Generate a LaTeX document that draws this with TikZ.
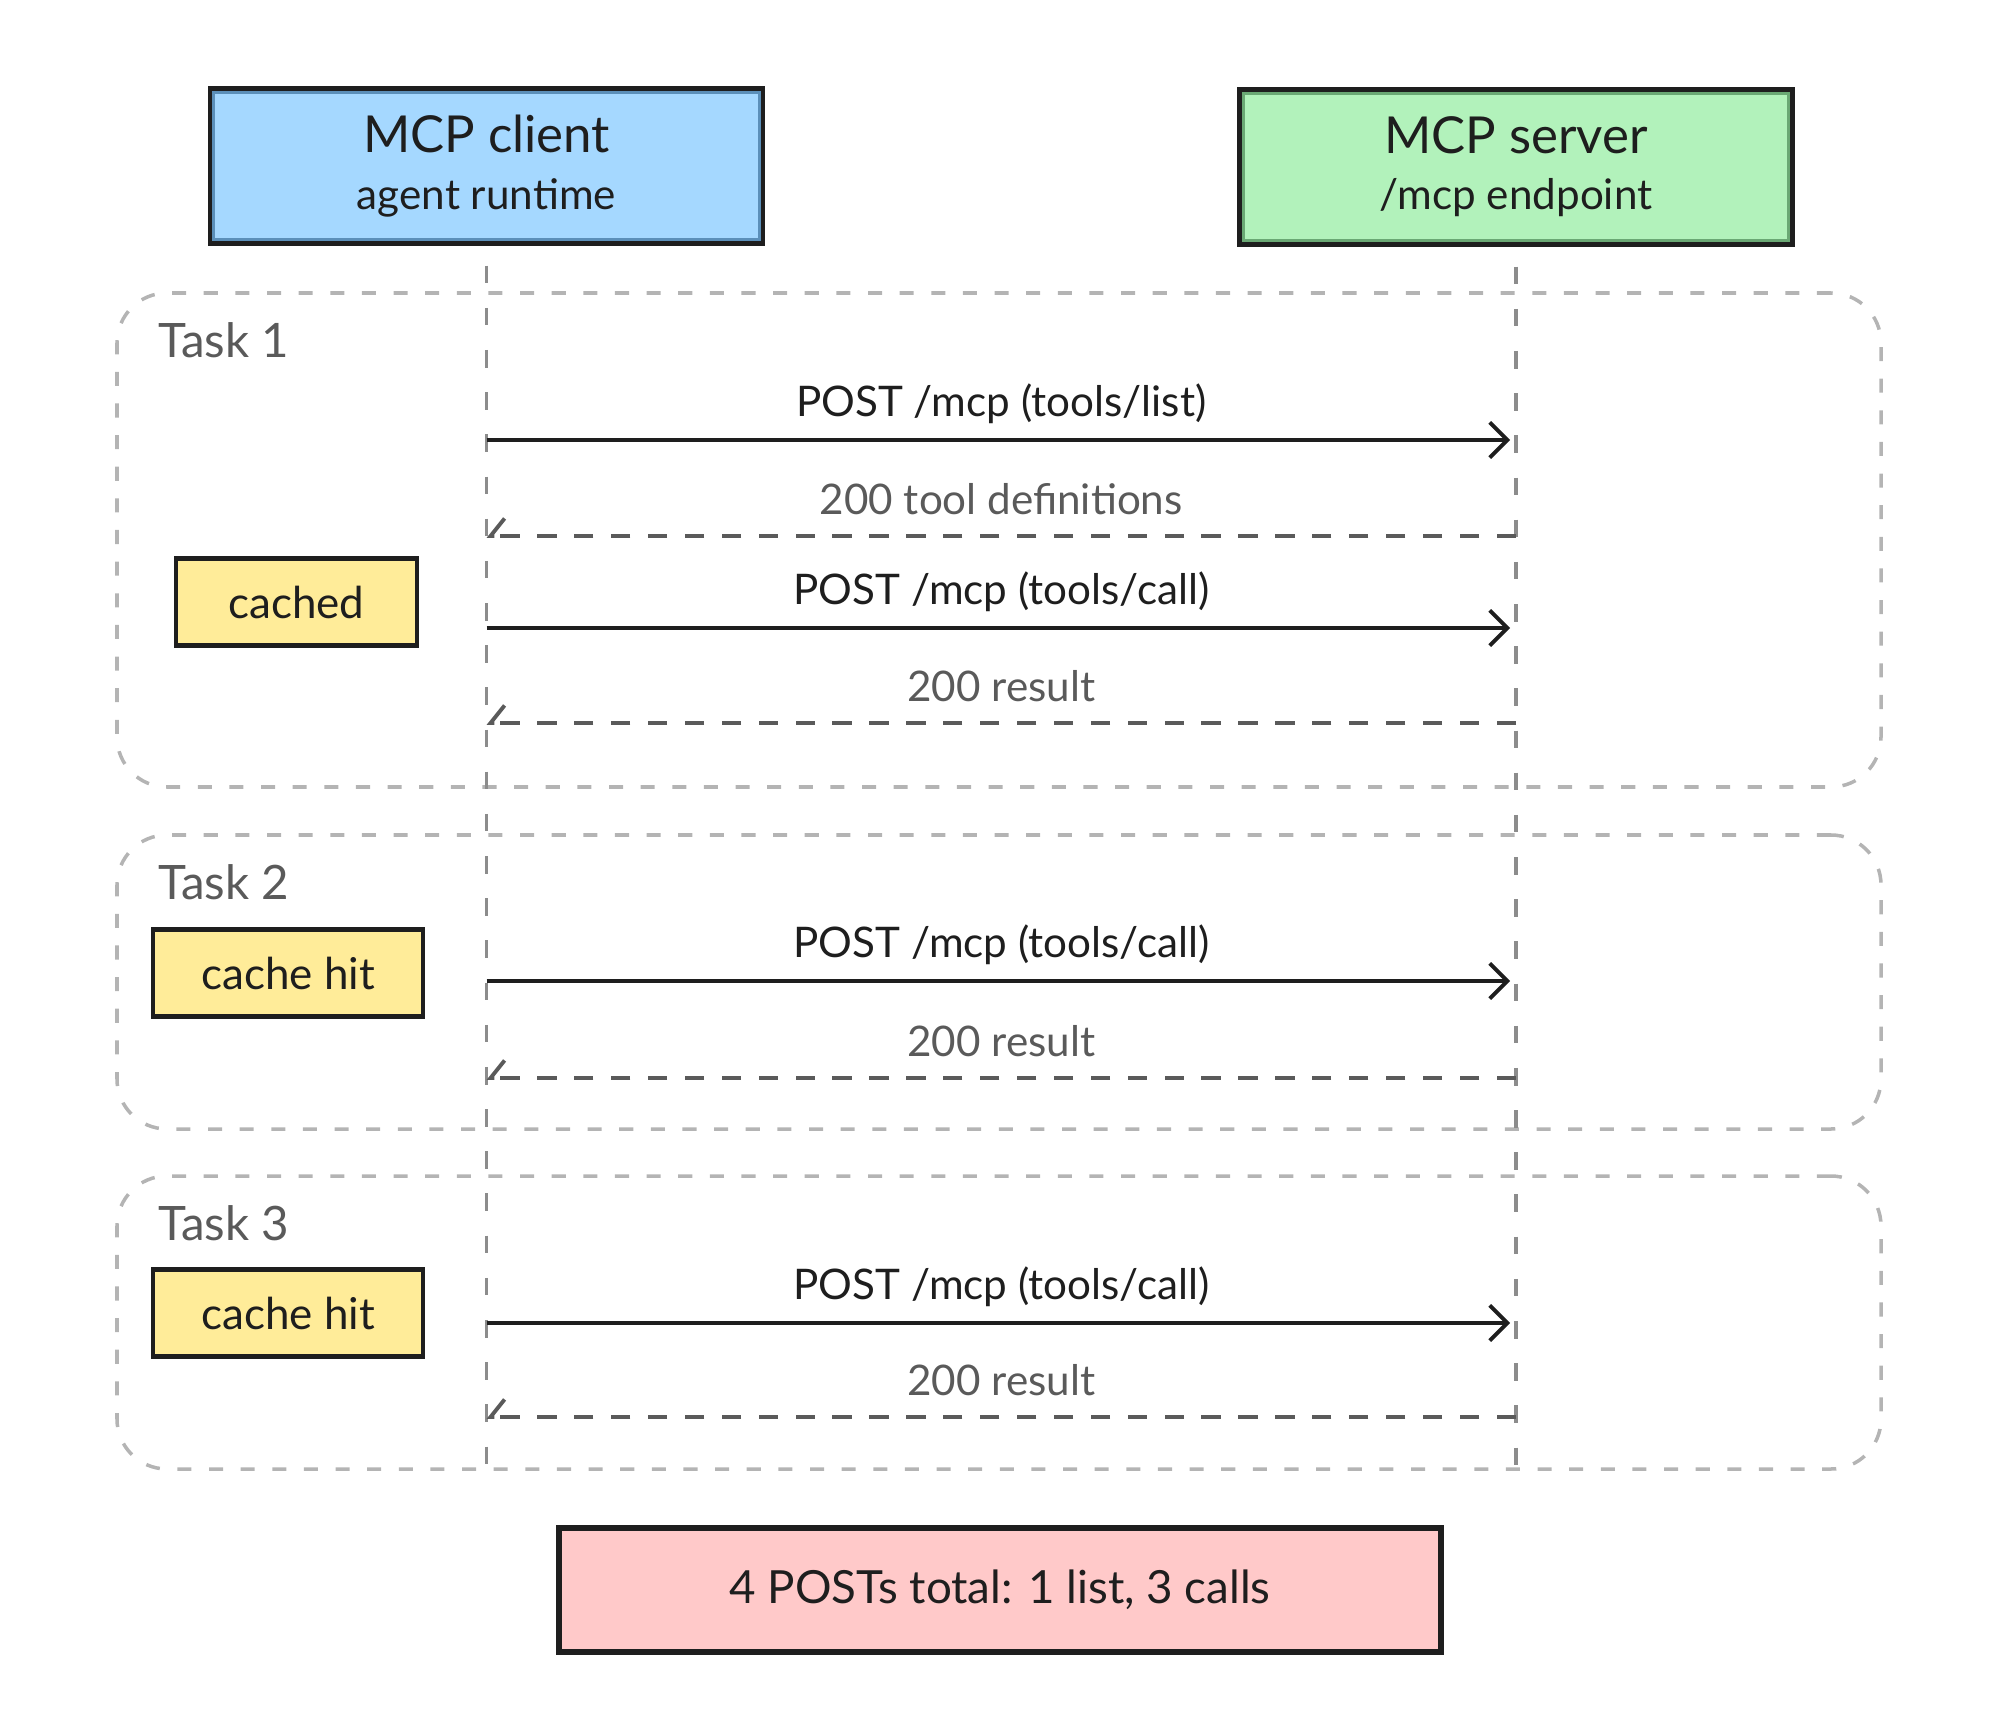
\documentclass[tikz,border=0pt]{standalone}
\usepackage{fontspec}
\setmainfont{Lato}
\usepackage{tikz}
\usetikzlibrary{arrows.meta, positioning, calc}

\definecolor{ink}{HTML}{1E1E1E}
\definecolor{clientfill}{HTML}{A5D8FF}
\definecolor{clientline}{HTML}{5B8FB9}
\definecolor{serverfill}{HTML}{B2F2BB}
\definecolor{serverline}{HTML}{6AA874}
\definecolor{notefill}{HTML}{FFEC99}
\definecolor{sumfill}{HTML}{FFC9C9}
\definecolor{framegray}{HTML}{B4B4B4}
\definecolor{lifegray}{HTML}{8C8C8C}
\definecolor{replygray}{HTML}{5A5A5A}

\begin{document}
\begin{tikzpicture}[auto, node distance=3cm, >={Straight Barb[length=5pt,width=10pt]}, thick]
        \tikzstyle{actor} = [draw=ink, rectangle, line width=1.5pt, minimum height=1.54cm, minimum width=5.52cm, align=center, text=ink]
        \tikzstyle{note} = [draw=ink, rectangle, line width=1.2pt, fill=notefill, minimum height=0.87cm, text=ink, font=\fontsize{12.5}{15}\selectfont]
        \tikzstyle{taskframe} = [draw=framegray, rectangle, rounded corners=0.5cm, line width=1pt, dash pattern=on 4pt off 5pt, minimum width=17.64cm]
        \tikzstyle{tasklabel} = [text=replygray, font=\fontsize{13.5}{16}\selectfont, inner sep=0pt]
        \tikzstyle{lifeline} = [draw=lifegray, line width=1pt, dash pattern=on 5pt off 7pt]
        \tikzstyle{call} = [->, draw=ink, line width=1.1pt, shorten >=0.06cm]
        \tikzstyle{reply} = [-{Straight Barb[right,length=4pt,width=10pt]}, draw=replygray, line width=1.1pt, dash pattern=on 5.5pt off 5pt]
        \tikzstyle{msg} = [above=0.03cm, text=ink, font=\fontsize{12}{14}\selectfont]
        \tikzstyle{answer} = [above=0.08cm, text=replygray, font=\fontsize{12}{14}\selectfont]

        \useasboundingbox (0,0) rectangle (20,-17.35);

        % Participants
        \node [actor, fill=clientfill] (client) at (4.865,-1.66) {{\fontsize{14.5}{17}\selectfont MCP client}\\[4pt]{\fontsize{12}{14}\selectfont agent runtime}};
        \node [actor, fill=serverfill] (server) at (15.16,-1.67) {{\fontsize{14.5}{17}\selectfont MCP server}\\[4pt]{\fontsize{12}{14}\selectfont /mcp endpoint}};
        \draw [clientline, line width=0.8pt] ([shift={(0.06,-0.06)}]client.north west) rectangle ([shift={(-0.06,0.06)}]client.south east);
        \draw [serverline, line width=0.8pt] ([shift={(0.06,-0.06)}]server.north west) rectangle ([shift={(-0.06,0.06)}]server.south east);

        % Task frames
        \node [taskframe, minimum height=4.94cm] (task1) at (9.99,-5.40) {};
        \node [taskframe, minimum height=2.94cm] (task2) at (9.99,-9.82) {};
        \node [taskframe, minimum height=2.93cm] (task3) at (9.99,-13.225) {};
        \node [tasklabel, below right=0.3cm and 0.42cm of task1.north west] (lab1) {Task 1};
        \node [tasklabel, below right=0.3cm and 0.42cm of task2.north west] (lab2) {Task 2};
        \node [tasklabel, below right=0.3cm and 0.42cm of task3.north west] (lab3) {Task 3};

        % Lifelines
        \coordinate (clientend) at (client.south |- 0,-14.67);
        \coordinate (serverend) at (server.south |- 0,-14.67);
        \draw [lifeline] ([yshift=-0.2cm]client.south) -- (clientend);
        \draw [lifeline] ([yshift=-0.2cm]server.south) -- (serverend);

        % Message rows on the lifelines
        \foreach \n/\y in {1/4.40, 2/5.36, 3/6.28, 4/7.23, 5/9.81, 6/10.78, 7/13.23, 8/14.17} {
            \coordinate (c\n) at (client.south |- 0,-\y);
            \coordinate (s\n) at (server.south |- 0,-\y);
        }

        % Task 1
        \draw [call] (c1) -- node[msg] {POST /mcp (tools/list)} (s1);
        \draw [reply] (s2) -- node[answer] {200 tool definitions} (c2);
        \draw [call] (c3) -- node[msg] {POST /mcp (tools/call)} (s3);
        \draw [reply] (s4) -- node[answer] {200 result} (c4);
        \node [note, minimum width=2.41cm] (cached) at (2.965,-6.02) {cached};

        % Task 2
        \draw [call] (c5) -- node[msg] {POST /mcp (tools/call)} (s5);
        \draw [reply] (s6) -- node[answer] {200 result} (c6);
        \node [note, minimum width=2.70cm] (hit2) at (2.88,-9.73) {cache hit};

        % Task 3
        \draw [call] (c7) -- node[msg] {POST /mcp (tools/call)} (s7);
        \draw [reply] (s8) -- node[answer] {200 result} (c8);
        \node [note, minimum width=2.70cm] (hit3) at (2.88,-13.13) {cache hit};

        % Summary
        \node [draw=ink, rectangle, line width=1.5pt, fill=sumfill, minimum width=8.82cm, minimum height=1.24cm, text=ink, font=\fontsize{13}{15}\selectfont] (total) at (10.0,-15.90) {4 POSTs total: 1 list, 3 calls};

    \end{tikzpicture}
\end{document}
